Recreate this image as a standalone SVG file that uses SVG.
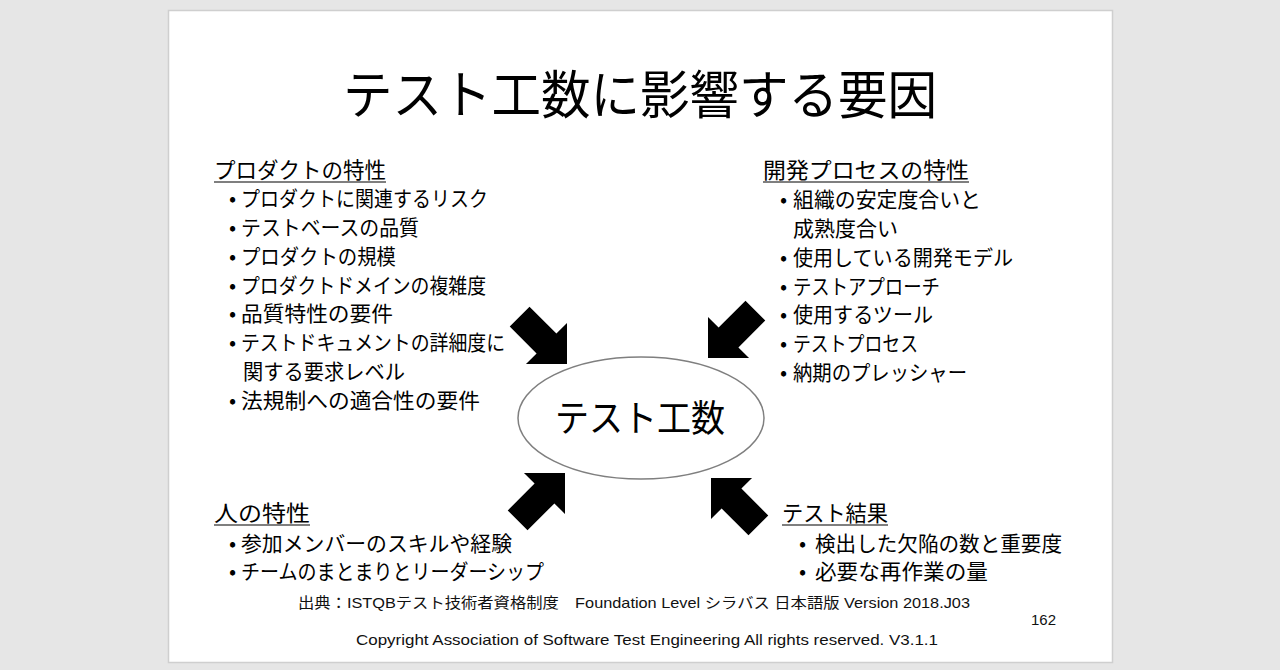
<svg xmlns="http://www.w3.org/2000/svg" xmlns:xlink="http://www.w3.org/1999/xlink" width="1280" height="670" viewBox="0 0 1280 670">
<style>
.jp{font-family:"Noto Sans CJK JP","Noto Sans CJK SC",sans-serif;fill:#000;}
.hd{font-size:22px;}
.it{font-size:21px;}
.ul{stroke:#555;stroke-width:1.5;}
.ft{font-family:"Liberation Sans","Noto Sans CJK JP",sans-serif;font-size:15px;fill:#111;}
.arrow{fill:#000;}
</style>
<defs>
<path id="blockArrow" d="M0,0 L-29,-29 L-29,-14 L-67,-14 L-67,14 L-29,14 L-29,29 Z"/>
</defs>
<rect x="0" y="0" width="1280" height="670" fill="#e6e6e6"/>
<rect x="168.5" y="10.5" width="944" height="652" fill="#ffffff" stroke="#cfcfcf" stroke-width="1.5"/>

<g id="title">
<text class="jp" x="343" y="114" font-size="52" textLength="594" lengthAdjust="spacingAndGlyphs">テスト工数に影響する要因</text>
</g>

<g id="connectors">
<use xlink:href="#blockArrow" class="arrow" transform="translate(567,364) rotate(45)"/>
<use xlink:href="#blockArrow" class="arrow" transform="translate(708,358) rotate(135)"/>
<use xlink:href="#blockArrow" class="arrow" transform="translate(565,473) rotate(-45)"/>
<use xlink:href="#blockArrow" class="arrow" transform="translate(711,478) rotate(-135)"/>
</g>

<g id="node-effort">
<ellipse cx="641" cy="418" rx="123" ry="61" fill="#ffffff" stroke="#7f7f7f" stroke-width="1.5"/>
<text class="jp" x="555" y="432" font-size="37" textLength="170" lengthAdjust="spacingAndGlyphs">テスト工数</text>
</g>

<g id="node-product">
<text class="jp hd" x="214" y="178" textLength="172" lengthAdjust="spacingAndGlyphs">プロダクトの特性</text>
<line class="ul" x1="214" y1="182" x2="386" y2="182"/>
<g class="jp it">
<text x="229" y="206">•</text><text x="241" y="206" textLength="247" lengthAdjust="spacingAndGlyphs">プロダクトに関連するリスク</text>
<text x="229" y="235">•</text><text x="241" y="235" textLength="178" lengthAdjust="spacingAndGlyphs">テストベースの品質</text>
<text x="229" y="264">•</text><text x="241" y="264" textLength="155" lengthAdjust="spacingAndGlyphs">プロダクトの規模</text>
<text x="229" y="293">•</text><text x="241" y="293" textLength="245" lengthAdjust="spacingAndGlyphs">プロダクトドメインの複雑度</text>
<text x="229" y="321">•</text><text x="241" y="321" textLength="152" lengthAdjust="spacingAndGlyphs">品質特性の要件</text>
<text x="229" y="350">•</text><text x="241" y="350" textLength="264" lengthAdjust="spacingAndGlyphs">テストドキュメントの詳細度に</text>
<text x="243" y="379" textLength="162" lengthAdjust="spacingAndGlyphs">関する要求レベル</text>
<text x="229" y="408">•</text><text x="241" y="408" textLength="239" lengthAdjust="spacingAndGlyphs">法規制への適合性の要件</text>
</g>
</g>

<g id="node-process">
<text class="jp hd" x="763" y="178" textLength="206" lengthAdjust="spacingAndGlyphs">開発プロセスの特性</text>
<line class="ul" x1="763" y1="182" x2="969" y2="182"/>
<g class="jp it">
<text x="780" y="207">•</text><text x="793" y="207" textLength="188" lengthAdjust="spacingAndGlyphs">組織の安定度合いと</text>
<text x="793" y="236" textLength="105" lengthAdjust="spacingAndGlyphs">成熟度合い</text>
<text x="780" y="265">•</text><text x="793" y="265" textLength="220" lengthAdjust="spacingAndGlyphs">使用している開発モデル</text>
<text x="780" y="294">•</text><text x="793" y="294" textLength="147" lengthAdjust="spacingAndGlyphs">テストアプローチ</text>
<text x="780" y="322">•</text><text x="793" y="322" textLength="140" lengthAdjust="spacingAndGlyphs">使用するツール</text>
<text x="780" y="351">•</text><text x="793" y="351" textLength="125" lengthAdjust="spacingAndGlyphs">テストプロセス</text>
<text x="780" y="380">•</text><text x="793" y="380" textLength="174" lengthAdjust="spacingAndGlyphs">納期のプレッシャー</text>
</g>
</g>

<g id="node-people">
<text class="jp hd" x="214" y="521" textLength="96" lengthAdjust="spacingAndGlyphs">人の特性</text>
<line class="ul" x1="214" y1="525" x2="310" y2="525"/>
<g class="jp it">
<text x="229" y="551">•</text><text x="241" y="551" textLength="271" lengthAdjust="spacingAndGlyphs">参加メンバーのスキルや経験</text>
<text x="229" y="579">•</text><text x="241" y="579" textLength="303" lengthAdjust="spacingAndGlyphs">チームのまとまりとリーダーシップ</text>
</g>
</g>

<g id="node-results">
<text class="jp hd" x="782" y="521" textLength="106" lengthAdjust="spacingAndGlyphs">テスト結果</text>
<line class="ul" x1="782" y1="525" x2="888" y2="525"/>
<g class="jp it">
<text x="799" y="551">•</text><text x="815" y="551" textLength="247" lengthAdjust="spacingAndGlyphs">検出した欠陥の数と重要度</text>
<text x="799" y="579">•</text><text x="815" y="579" textLength="173" lengthAdjust="spacingAndGlyphs">必要な再作業の量</text>
</g>
</g>

<g id="footer">
<text class="ft" x="298" y="608" textLength="672" lengthAdjust="spacingAndGlyphs">出典：ISTQBテスト技術者資格制度　Foundation Level シラバス 日本語版 Version 2018.J03</text>
<text class="ft" x="1031" y="625" textLength="25" lengthAdjust="spacingAndGlyphs">162</text>
<text class="ft" x="356" y="645" textLength="582" lengthAdjust="spacingAndGlyphs">Copyright Association of Software Test Engineering All rights reserved.  V3.1.1</text>
</g>
</svg>
